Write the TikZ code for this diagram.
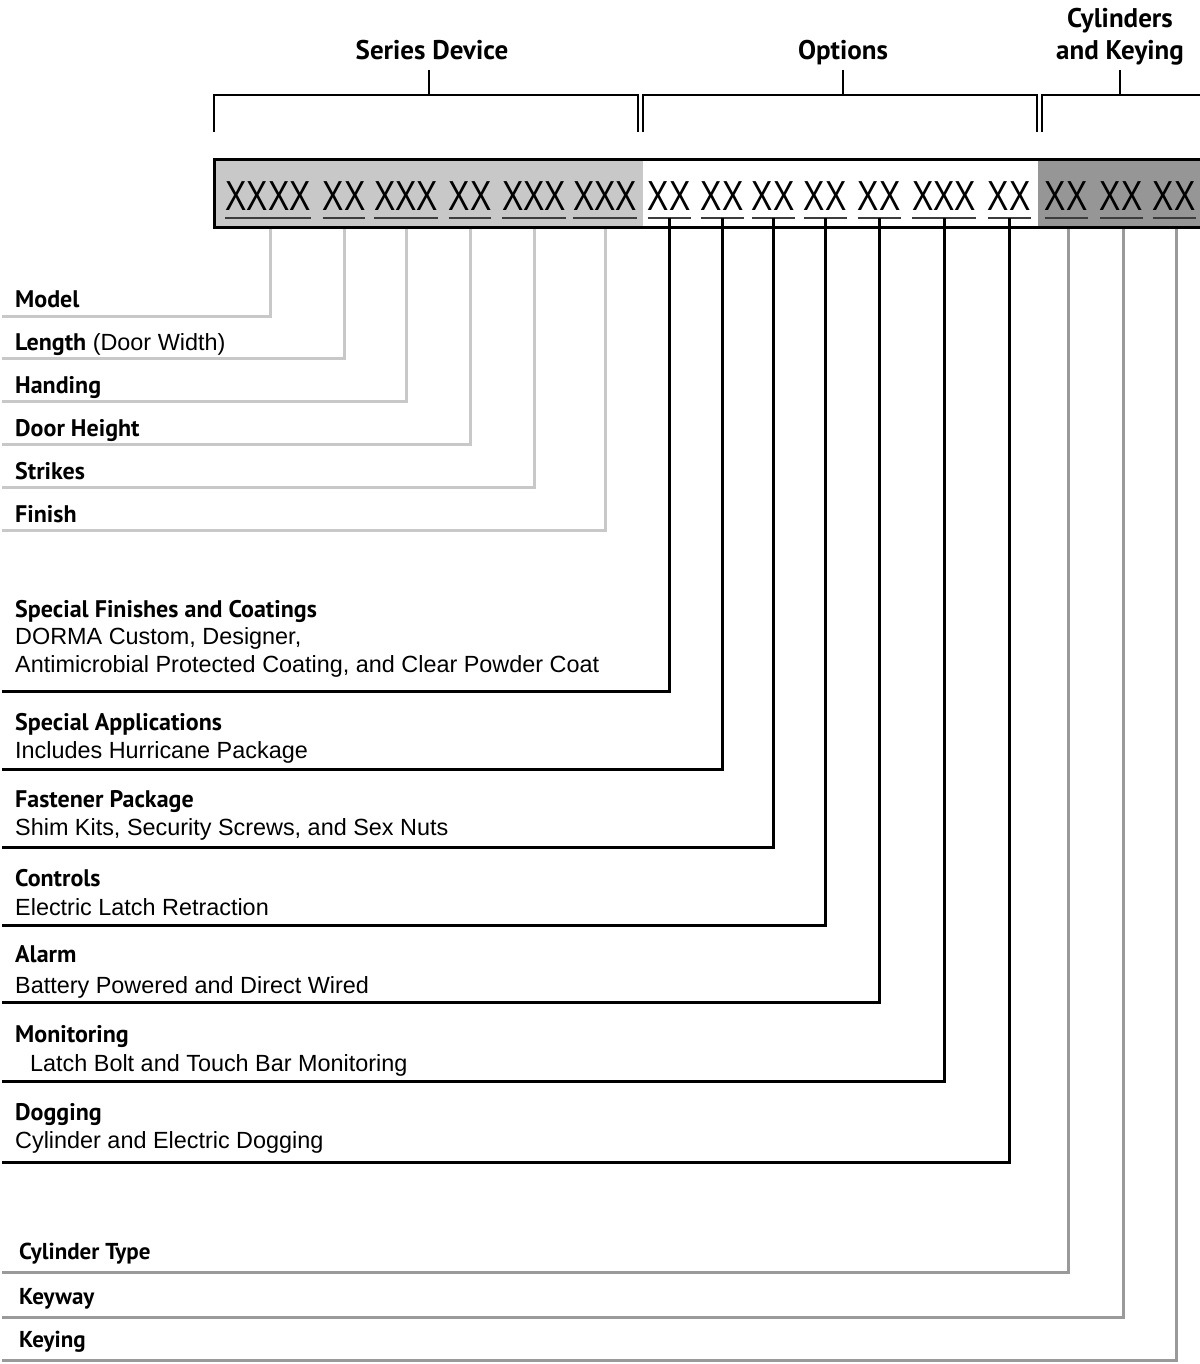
\documentclass[tikz,border=0pt]{standalone}
\usepackage{graphicx}
\usepackage{fontspec}
\setmainfont{Liberation Sans}
\newfontfamily\ptsans{PT Sans}
\definecolor{lightfill}{HTML}{C8C8C8}
\definecolor{darkfill}{HTML}{969696}
\definecolor{serline}{HTML}{C8C8C8}
\definecolor{cylline}{HTML}{9A9A9A}
\definecolor{ulcol}{HTML}{3C3C3C}
\newcommand{\bl}[1]{{\ptsans\bfseries\fontsize{24}{24}\selectfont #1}}
\newcommand{\codex}[1]{\scalebox{0.76}[1]{#1}}
\begin{document}
\begin{tikzpicture}[x=1pt,y=-1pt,
  codetxt/.style={inner sep=0pt,anchor=base,font=\fontsize{42}{42}\selectfont},
  lab/.style={inner sep=0pt,anchor=base west,font=\fontsize{23.4}{23.4}\selectfont},
  blab/.style={inner sep=0pt,anchor=base west,font=\ptsans\bfseries\fontsize{24}{24}\selectfont},
  clab/.style={inner sep=0pt,anchor=base west,font=\ptsans\bfseries\fontsize{23}{23}\selectfont},
  head/.style={inner sep=0pt,anchor=base,font=\ptsans\bfseries\fontsize{27}{27}\selectfont},
  brk/.style={line width=2.5pt,black},
  serl/.style={line width=3pt,serline},
  optl/.style={line width=3pt,black},
  cyll/.style={line width=3pt,cylline},
  ul/.style={line width=1.5pt,ulcol}]
\useasboundingbox (0,0) rectangle (1199,1364);
% headings
\node[head] (hs) at (432,60) {Series Device};
\node[head] (ho) at (843,60) {Options};
\node[head] (hc1) at (1120,28) {Cylinders};
\node[head] (hc) at (1120,60) {and Keying};
% brackets
\coordinate (bs1) at (214,132); \coordinate (bs2) at (638,132);
\coordinate (bo1) at (643,132); \coordinate (bo2) at (1037,132);
\coordinate (bc1) at (1042,132); \coordinate (bc2) at (1215,132);
\draw[brk] (bs1) -- (214,95) -- (638,95) -- (bs2);
\draw[brk] (bo1) -- (643,95) -- (1037,95) -- (bo2);
\draw[brk] (bc1) -- (1042,95) -- (1215,95) -- (bc2);
\draw[brk] (429,70) -- (429,95);
\draw[brk] (843,70) -- (843,95);
\draw[brk] (1120,70) -- (1120,95);
% box fills
\fill[lightfill] (214,160) rectangle (643,228);
\fill[white] (643,160) rectangle (1038,228);
\fill[darkfill] (1038,160) rectangle (1210,228);
% code groups
\node[codetxt] (c1) at (268,211) {\codex{XXXX}};
\node[codetxt] (c2) at (344,211) {\codex{XX}};
\node[codetxt] (c3) at (406,211) {\codex{XXX}};
\node[codetxt] (c4) at (470,211) {\codex{XX}};
\node[codetxt] (c5) at (534,211) {\codex{XXX}};
\node[codetxt] (c6) at (605,211) {\codex{XXX}};
\node[codetxt] (o1) at (669,211) {\codex{XX}};
\node[codetxt] (o2) at (722,211) {\codex{XX}};
\node[codetxt] (o3) at (773,211) {\codex{XX}};
\node[codetxt] (o4) at (825,211) {\codex{XX}};
\node[codetxt] (o5) at (879,211) {\codex{XX}};
\node[codetxt] (o6) at (944,211) {\codex{XXX}};
\node[codetxt] (o7) at (1009,211) {\codex{XX}};
\node[codetxt] (k1) at (1066,211) {\codex{XX}};
\node[codetxt] (k2) at (1121,211) {\codex{XX}};
\node[codetxt] (k3) at (1174,211) {\codex{XX}};
\foreach \n in {c1,c2,c3,c4,c5,c6,o1,o2,o3,o4,o5,o6,o7,k1,k2,k3}
  \draw[ul] ([yshift=-7pt]\n.base west) -- ([yshift=-7pt]\n.base east);
% series labels
\node[blab] (l1) at (15,307) {Model};
\node[lab] (l2) at (15,350) {\bl{Length} (Door Width)};
\node[blab] (l3) at (15,393) {Handing};
\node[blab] (l4) at (15,436) {Door Height};
\node[blab] (l5) at (15,479) {Strikes};
\node[blab] (l6) at (15,522) {Finish};
\coordinate (e1) at (2,316);
\coordinate (e2) at (2,358);
\coordinate (e3) at (2,401);
\coordinate (e4) at (2,444);
\coordinate (e5) at (2,487);
\coordinate (e6) at (2,530);
\draw[serl] ([xshift=2pt]c1.base |- 0,228) |- (e1);
\draw[serl] (c2.base |- 0,228) |- (e2);
\draw[serl] (c3.base |- 0,228) |- (e3);
\draw[serl] (c4.base |- 0,228) |- (e4);
\draw[serl] (c5.base |- 0,228) |- (e5);
\draw[serl] (c6.base |- 0,228) |- (e6);
% option labels
\node[blab] (p1) at (15,617) {Special Finishes and Coatings};
\node[lab] (p1a) at (15,644) {DORMA Custom, Designer,};
\node[lab] (p1b) at (15,672) {Antimicrobial Protected Coating, and Clear Powder Coat};
\node[blab] (p2) at (15,730) {Special Applications};
\node[lab] (p2a) at (15,758) {Includes Hurricane Package};
\node[blab] (p3) at (15,807) {Fastener Package};
\node[lab] (p3a) at (15,835) {Shim Kits, Security Screws, and Sex Nuts};
\node[blab] (p4) at (15,886) {Controls};
\node[lab] (p4a) at (15,915) {Electric Latch Retraction};
\node[blab] (p5) at (15,962) {Alarm};
\node[lab] (p5a) at (15,993) {Battery Powered and Direct Wired};
\node[blab] (p6) at (15,1042) {Monitoring};
\node[lab] (p6a) at (30,1071) {Latch Bolt and Touch Bar Monitoring};
\node[blab] (p7) at (15,1120) {Dogging};
\node[lab] (p7a) at (15,1148) {Cylinder and Electric Dogging};
\coordinate (f1) at (2,691);
\coordinate (f2) at (2,769);
\coordinate (f3) at (2,847);
\coordinate (f4) at (2,925);
\coordinate (f5) at (2,1002);
\coordinate (f6) at (2,1081);
\coordinate (f7) at (2,1162);
\draw[optl] ([yshift=-7pt]o1.base) |- (f1);
\draw[optl] ([yshift=-7pt]o2.base) |- (f2);
\draw[optl] ([yshift=-7pt]o3.base) |- (f3);
\draw[optl] ([yshift=-7pt]o4.base) |- (f4);
\draw[optl] ([yshift=-7pt]o5.base) |- (f5);
\draw[optl] ([yshift=-7pt]o6.base) |- (f6);
\draw[optl] ([yshift=-7pt]o7.base) |- (f7);
% cylinder labels
\node[clab] (q1) at (19,1259) {Cylinder Type};
\node[clab] (q2) at (19,1304) {Keyway};
\node[clab] (q3) at (19,1347) {Keying};
\coordinate (g1) at (2,1272);
\coordinate (g2) at (2,1317);
\coordinate (g3) at (2,1360);
\draw[cyll] ([xshift=2pt]k1.base |- 0,228) |- (g1);
\draw[cyll] ([xshift=2pt]k2.base |- 0,228) |- (g2);
\draw[cyll] ([xshift=2pt]k3.base |- 0,228) |- (g3);
% box border
\draw[line width=3pt,black] (1215,160) -- (214,160) -- (214,228) -- (1215,228);
\end{tikzpicture}
\end{document}
